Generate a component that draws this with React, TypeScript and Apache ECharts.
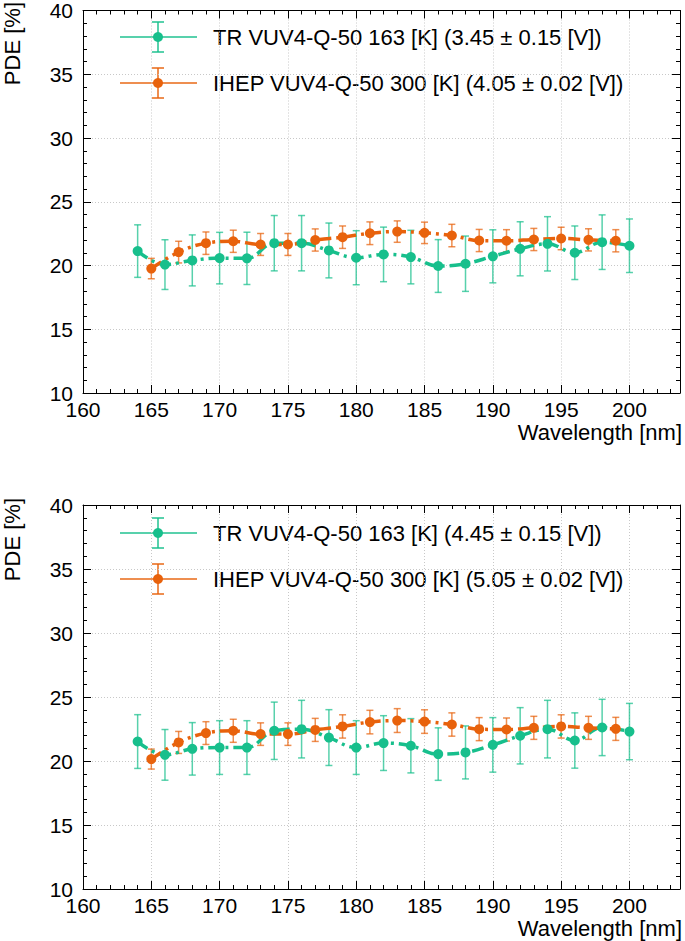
import React, { useEffect, useRef } from "react";
import * as echarts from "echarts";

// Wavelength positions [nm]
const wlTR = [164, 166, 168, 170, 172, 174, 176, 178, 180, 182, 184, 186, 188, 190, 192, 194, 196, 198, 200];
const wlIHEP = [165, 167, 169, 171, 173, 175, 177, 179, 181, 183, 185, 187, 189, 191, 193, 195, 197, 199];

// Top panel
const pdeTR1 = [21.13, 20.07, 20.4, 20.58, 20.56, 21.75, 21.75, 21.18, 20.61, 20.87, 20.66, 19.96, 20.14, 20.72, 21.31, 21.7, 21.0, 21.83, 21.55];
const errTR1 = [2.06, 1.95, 2.0, 2.02, 2.05, 2.17, 2.17, 2.15, 2.12, 2.14, 2.1, 2.07, 2.17, 2.08, 2.12, 2.13, 2.1, 2.14, 2.1];
const pdeIHEP1 = [19.76, 21.05, 21.75, 21.9, 21.65, 21.65, 22.0, 22.22, 22.53, 22.66, 22.56, 22.35, 21.96, 21.94, 22.04, 22.12, 22.01, 21.94];
const errIHEP1 = [0.8, 0.85, 0.88, 0.87, 0.86, 0.86, 0.87, 0.88, 0.89, 0.84, 0.84, 0.88, 0.87, 0.87, 0.87, 0.88, 0.87, 0.87];

// Bottom panel
const pdeTR2 = [21.52, 20.48, 20.95, 21.05, 21.05, 22.36, 22.49, 21.83, 21.05, 21.4, 21.19, 20.54, 20.67, 21.26, 21.97, 22.49, 21.6, 22.62, 22.3];
const errTR2 = [2.1, 1.98, 2.05, 2.1, 2.1, 2.24, 2.25, 2.18, 2.1, 2.14, 2.12, 2.05, 2.07, 2.13, 2.2, 2.25, 2.16, 2.2, 2.2];
const pdeIHEP2 = [20.15, 21.45, 22.18, 22.36, 22.1, 22.1, 22.43, 22.7, 23.04, 23.16, 23.08, 22.85, 22.49, 22.46, 22.59, 22.7, 22.59, 22.51];
const errIHEP2 = [0.78, 0.86, 0.89, 0.9, 0.88, 0.88, 0.9, 0.91, 0.92, 0.93, 0.92, 0.91, 0.9, 0.9, 0.9, 0.91, 0.9, 0.9];

const legendTR = ["TR VUV4-Q-50 163 [K] (3.45 ± 0.15 [V])", "TR VUV4-Q-50 163 [K] (4.45 ± 0.15 [V])"];
const legendIHEP = ["IHEP VUV4-Q-50 300 [K] (4.05 ± 0.02 [V])", "IHEP VUV4-Q-50 300 [K] (5.05 ± 0.02 [V])"];

const xTitle = "Wavelength [nm]";
const yTitle = "PDE [%]";

const X_MIN = 160;
const X_MAX = 203.7;
const Y_MIN = 10;
const Y_MAX = 40;

const GREEN = "#17bf8c";
const GREEN_ERR = "rgba(23,191,140,0.72)";
const ORANGE = "#e8620c";
const ORANGE_ERR = "rgba(232,98,12,0.72)";
const FONT = "Liberation Sans, Arial, Helvetica, sans-serif";

const panels = [
  { top: 9, tr: pdeTR1, trErr: errTR1, ihep: pdeIHEP1, ihepErr: errIHEP1 },
  { top: 505, tr: pdeTR2, trErr: errTR2, ihep: pdeIHEP2, ihepErr: errIHEP2 },
];

const GRID_LEFT = 83;
const GRID_W = 597;
const GRID_H = 384;

function errSeries(xs: number[], ys: number[], es: number[], color: string, xi: number, yi: number) {
  return {
    type: "custom",
    xAxisIndex: xi,
    yAxisIndex: yi,
    z: 2,
    clip: false,
    data: xs.map((x, k) => [x, ys[k], es[k]]),
    encode: { x: 0, y: 1 },
    renderItem: (_params: any, api: any) => {
      const x = api.value(0);
      const y = api.value(1);
      const e = api.value(2);
      const p1 = api.coord([x, y + e]);
      const p2 = api.coord([x, y - e]);
      const hw = 3.5;
      const st = { stroke: color, lineWidth: 1.5 };
      return {
        type: "group",
        children: [
          { type: "line", shape: { x1: p1[0], y1: p1[1], x2: p2[0], y2: p2[1] }, style: st },
          { type: "line", shape: { x1: p1[0] - hw, y1: p1[1], x2: p1[0] + hw, y2: p1[1] }, style: st },
          { type: "line", shape: { x1: p2[0] - hw, y1: p2[1], x2: p2[0] + hw, y2: p2[1] }, style: st },
        ],
      };
    },
  };
}

function lineSeries(xs: number[], ys: number[], color: string, xi: number, yi: number) {
  return {
    type: "line",
    xAxisIndex: xi,
    yAxisIndex: yi,
    z: 3,
    data: xs.map((x, k) => [x, ys[k]]),
    smooth: 0.4,
    symbol: "circle",
    symbolSize: 10,
    showSymbol: true,
    itemStyle: { color },
    lineStyle: { color, width: 3.5, type: [12, 5, 3, 5] },
  };
}

function legendItem(y: number, color: string, errColor: string, label: string) {
  return [
    { type: "line", shape: { x1: 120, y1: y, x2: 197, y2: y }, style: { stroke: errColor, lineWidth: 2 } },
    { type: "line", shape: { x1: 158, y1: y - 15, x2: 158, y2: y + 15 }, style: { stroke: errColor, lineWidth: 2 } },
    { type: "line", shape: { x1: 152, y1: y - 15, x2: 164, y2: y - 15 }, style: { stroke: errColor, lineWidth: 2 } },
    { type: "line", shape: { x1: 152, y1: y + 15, x2: 164, y2: y + 15 }, style: { stroke: errColor, lineWidth: 2 } },
    { type: "circle", shape: { cx: 158, cy: y, r: 5 }, style: { fill: color } },
    {
      type: "text",
      x: 213,
      y,
      style: { text: label, fill: "#000", fontSize: 22, fontFamily: FONT, verticalAlign: "middle", align: "left" },
    },
  ];
}

export default function App() {
  const ref = useRef<HTMLDivElement>(null);
  useEffect(() => {
    if (!ref.current) return;
    const chart = echarts.init(ref.current, undefined, { renderer: "svg" });

    const grids: any[] = [];
    const xAxes: any[] = [];
    const yAxes: any[] = [];
    const series: any[] = [];
    const graphics: any[] = [];

    panels.forEach((p, i) => {
      grids.push({ left: GRID_LEFT, top: p.top, width: GRID_W, height: GRID_H, containLabel: false });
      const axisLine = { show: true, lineStyle: { color: "#000", width: 1 } };
      // main bottom axis (labels, major ticks, grid lines)
      xAxes.push({
        type: "value", gridIndex: i, position: "bottom", min: X_MIN, max: X_MAX, interval: 5,
        axisLine, axisTick: { show: true, inside: true, length: 8, lineStyle: { color: "#000" } },
        axisLabel: {
          show: true, color: "#000", fontSize: 21, lineHeight: 15, fontFamily: FONT, margin: 9, showMaxLabel: false,
          formatter: (v: number) => (v % 5 === 0 ? String(v) : ""),
        },
        splitLine: { show: true, lineStyle: { color: "#c8c8c8", type: [1, 2], width: 1 } },
      });
      // bottom minor ticks
      xAxes.push({
        type: "value", gridIndex: i, position: "bottom", min: X_MIN, max: X_MAX, interval: 1,
        axisLine: { show: false }, axisTick: { show: true, inside: true, length: 4, lineStyle: { color: "#000" } },
        axisLabel: { show: false }, splitLine: { show: false },
      });
      // top major
      xAxes.push({
        type: "value", gridIndex: i, position: "top", min: X_MIN, max: X_MAX, interval: 5,
        axisLine, axisTick: { show: true, inside: true, length: 8, lineStyle: { color: "#000" } },
        axisLabel: { show: false }, splitLine: { show: false },
      });
      // top minor
      xAxes.push({
        type: "value", gridIndex: i, position: "top", min: X_MIN, max: X_MAX, interval: 1,
        axisLine: { show: false }, axisTick: { show: true, inside: true, length: 4, lineStyle: { color: "#000" } },
        axisLabel: { show: false }, splitLine: { show: false },
      });
      yAxes.push({
        type: "value", gridIndex: i, position: "left", min: Y_MIN, max: Y_MAX, interval: 5,
        axisLine, axisTick: { show: true, inside: true, length: 8, lineStyle: { color: "#000" } },
        minorTick: { show: true, splitNumber: 5, length: 4, lineStyle: { color: "#000" } },
        axisLabel: { show: true, color: "#000", fontSize: 21, lineHeight: 14, fontFamily: FONT, margin: 10 },
        splitLine: { show: true, lineStyle: { color: "#c8c8c8", type: [1, 2], width: 1 } },
      });
      yAxes.push({
        type: "value", gridIndex: i, position: "right", min: Y_MIN, max: Y_MAX, interval: 5,
        axisLine, axisTick: { show: true, inside: true, length: 8, lineStyle: { color: "#000" } },
        minorTick: { show: true, splitNumber: 5, length: 4, lineStyle: { color: "#000" } },
        axisLabel: { show: false }, splitLine: { show: false },
      });

      const xi = i * 4;
      const yi = i * 2;
      series.push(errSeries(wlTR, p.tr, p.trErr, GREEN_ERR, xi, yi));
      series.push(lineSeries(wlTR, p.tr, GREEN, xi, yi));
      series.push(errSeries(wlIHEP, p.ihep, p.ihepErr, ORANGE_ERR, xi, yi));
      series.push(lineSeries(wlIHEP, p.ihep, ORANGE, xi, yi));

      graphics.push(...legendItem(p.top + 28, GREEN, GREEN_ERR, legendTR[i]));
      graphics.push(...legendItem(p.top + 74, ORANGE, ORANGE_ERR, legendIHEP[i]));
      graphics.push({
        type: "text", x: 682, y: p.top + 423,
        style: { text: xTitle, fill: "#000", fontSize: 22, lineHeight: 18, fontFamily: FONT, align: "right", verticalAlign: "middle" },
      });
      graphics.push({
        type: "text", x: 12, y: p.top - 7, rotation: Math.PI / 2,
        style: { text: yTitle, fill: "#000", fontSize: 22, fontFamily: FONT, align: "right", verticalAlign: "middle" },
      });
    });

    chart.setOption({
      animation: false,
      backgroundColor: "#fff",
      textStyle: { fontFamily: FONT },
      grid: grids,
      xAxis: xAxes,
      yAxis: yAxes,
      series,
      graphic: graphics,
    });
    return () => chart.dispose();
  }, []);
  return <div ref={ref} style={{ position: "absolute", left: 0, top: 0, width: 685, height: 941 }} />;
}
